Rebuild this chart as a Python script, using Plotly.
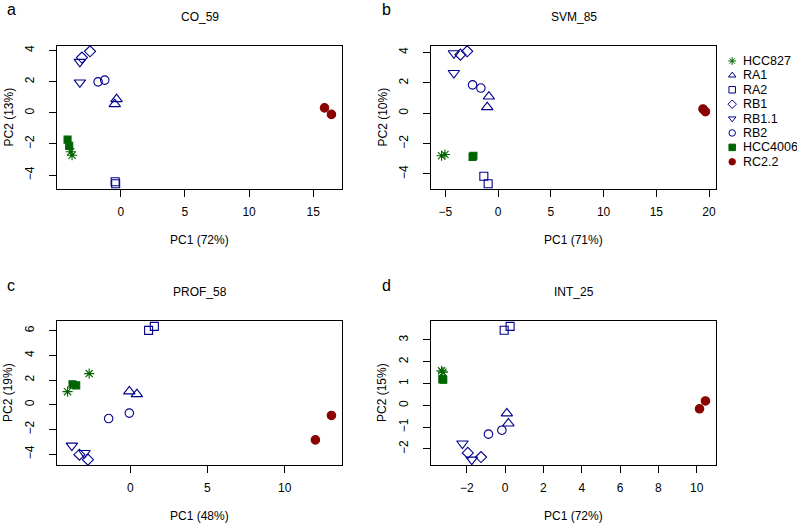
import plotly.graph_objects as go

# ---------------- data ----------------
groups = ["HCC827", "RA1", "RA2", "RB1", "RB1.1", "RB2", "HCC4006", "RC2.2"]
group_colors = ["#006400", "#00008B", "#00008B", "#00008B", "#00008B", "#00008B", "#006400", "#8B0000"]
group_symbols = ["asterisk-open", "triangle-up-open", "square-open", "diamond-open",
                 "triangle-down-open", "circle-open", "square", "circle"]
group_sizes = [8.5, 10, 8, 8.5, 10, 8.5, 7, 8.5]

panel_titles = ["CO_59", "SVM_85", "PROF_58", "INT_25"]
panel_letters = ["a", "b", "c", "d"]
pc1_labels = ["PC1 (72%)", "PC1 (71%)", "PC1 (48%)", "PC1 (72%)"]
pc2_labels = ["PC2 (13%)", "PC2 (10%)", "PC2 (19%)", "PC2 (15%)"]
x_dticks = [5, 5, 5, 2]
y_dticks = [2, 2, 2, 1]

# two samples per group, in group order
co59_pc1 = [-3.90, -3.80, -0.33, -0.47, -0.44, -0.40, -2.40, -3.03, -3.19, -3.19, -1.77, -1.25, -4.15, -4.02, 15.88, 16.42]
co59_pc2 = [-2.50, -2.72, 0.88, 0.56, -4.42, -4.55, 3.95, 3.55, 3.27, 1.95, 1.99, 2.10, -1.72, -2.12, 0.32, -0.10]

svm85_pc1 = [-5.37, -5.05, -0.88, -1.04, -1.36, -0.95, -3.58, -2.94, -4.20, -4.20, -2.43, -1.64, -2.43, -2.35, 19.43, 19.66]
svm85_pc2 = [-2.80, -2.72, 1.10, 0.40, -4.15, -4.64, 3.86, 4.08, 3.95, 2.65, 1.87, 1.66, -2.87, -2.80, 0.28, 0.10]

prof58_pc1 = [-2.66, -4.06, -0.06, 0.43, 1.19, 1.56, -3.29, -2.74, -3.78, -2.96, -1.40, -0.06, -3.74, -3.50, 11.99, 13.03]
prof58_pc2 = [2.52, 1.06, 1.08, 0.86, 6.02, 6.35, -4.05, -4.45, -3.31, -3.91, -1.12, -0.68, 1.65, 1.57, -2.85, -0.87]

int25_pc1 = [-3.32, -3.25, 0.09, 0.17, -0.05, 0.26, -1.95, -1.26, -2.23, -1.74, -0.87, -0.17, -3.28, -3.23, 10.15, 10.46]
int25_pc2 = [1.58, 1.52, -0.37, -0.83, 3.44, 3.62, -2.18, -2.37, -1.75, -2.49, -1.32, -1.14, 1.20, 1.17, -0.16, 0.20]

panels_x = [co59_pc1, svm85_pc1, prof58_pc1, int25_pc1]
panels_y = [co59_pc2, svm85_pc2, prof58_pc2, int25_pc2]

# ---------------- layout geometry (pixels) ----------------
W, H = 797, 524
box_x = [(57, 342), (431, 716), (57, 342), (431, 716)]
box_y = [(46, 189), (46, 189), (321, 465), (321, 465)]

FONT = "Liberation Sans, Arial, Helvetica, sans-serif"
fig = go.Figure()
layout = dict(width=W, height=H, margin=dict(l=0, r=0, t=0, b=0),
              paper_bgcolor="white", plot_bgcolor="white",
              font=dict(family=FONT, size=12, color="black"), showlegend=False)
annotations = []


def rng(vals):
    lo, hi = min(vals), max(vals)
    pad = (hi - lo) * 0.04
    return [lo - pad, hi + pad]


for p in range(4):
    xa = "x" if p == 0 else f"x{p+1}"
    ya = "y" if p == 0 else f"y{p+1}"
    xs, ys = panels_x[p], panels_y[p]
    for g, name in enumerate(groups):
        fig.add_trace(go.Scatter(
            x=xs[2 * g:2 * g + 2], y=ys[2 * g:2 * g + 2], mode="markers", name=name,
            xaxis=xa, yaxis=ya,
            marker=dict(symbol=group_symbols[g], size=group_sizes[g], color=group_colors[g],
                        line=dict(color=group_colors[g], width=1.1)),
        ))
    x0, x1 = box_x[p]
    y0, y1 = box_y[p]
    axis_common = dict(showline=True, mirror=True, linecolor="black", linewidth=1,
                       showgrid=False, zeroline=False, ticks="outside", ticklen=7,
                       tickcolor="black", tickwidth=1, tickfont=dict(size=12, family=FONT),
                       tickmode="linear", tick0=0)
    layout["xaxis" if p == 0 else f"xaxis{p+1}"] = dict(
        axis_common, domain=[x0 / W, x1 / W], range=rng(xs), dtick=x_dticks[p],
        anchor=ya, ticklabelstandoff=5)
    layout["yaxis" if p == 0 else f"yaxis{p+1}"] = dict(
        axis_common, domain=[1 - y1 / H, 1 - y0 / H], range=rng(ys), dtick=y_dticks[p],
        anchor=xa, tickangle=-90, ticklabelstandoff=10)

    cx = (x0 + x1) / 2
    cy = (y0 + y1) / 2
    top_off = 0 if p < 2 else 275
    # panel title
    annotations.append(dict(text=panel_titles[p], x=cx / W, y=1 - (17 + top_off) / H,
                            xref="paper", yref="paper", showarrow=False,
                            xanchor="center", yanchor="middle", font=dict(size=12)))
    # x axis title
    annotations.append(dict(text=pc1_labels[p], x=cx / W, y=1 - (y1 + 51) / H,
                            xref="paper", yref="paper", showarrow=False,
                            xanchor="center", yanchor="middle", font=dict(size=12)))
    # y axis title
    annotations.append(dict(text=pc2_labels[p], x=(x0 - 49) / W, y=1 - cy / H,
                            xref="paper", yref="paper", showarrow=False, textangle=-90,
                            xanchor="center", yanchor="middle", font=dict(size=12)))
    # panel letter
    lx = 11 if p % 2 == 0 else 386
    ly = 10 if p < 2 else 285
    annotations.append(dict(text=panel_letters[p], x=lx / W, y=1 - ly / H,
                            xref="paper", yref="paper", showarrow=False,
                            xanchor="center", yanchor="middle", font=dict(size=16)))

# ---------------- legend drawn as its own small axis ----------------
legend_idx = list(range(len(groups)))
for g, name in enumerate(groups):
    fig.add_trace(go.Scatter(
        x=[0.1], y=[legend_idx[g]], mode="markers", xaxis="x5", yaxis="y5",
        marker=dict(symbol=group_symbols[g], size=6.5, color=group_colors[g],
                    line=dict(color=group_colors[g], width=1)),
        hoverinfo="skip"))
    annotations.append(dict(text=name, x=0.22, y=legend_idx[g], xref="x5", yref="y5",
                            showarrow=False, xanchor="left", yanchor="middle",
                            font=dict(size=12.5)))

layout["xaxis5"] = dict(domain=[725 / W, 1.0], range=[0, 1], visible=False, anchor="y5")
layout["yaxis5"] = dict(domain=[1 - 189 / H, 1 - 46 / H], range=[8.89, -1.04],
                        visible=False, anchor="x5")
layout["annotations"] = annotations

fig.update_layout(**layout)
fig.write_html("out.html", config={"displayModeBar": False},
               post_script="document.body.style.margin='0';document.body.style.overflow='hidden';")
